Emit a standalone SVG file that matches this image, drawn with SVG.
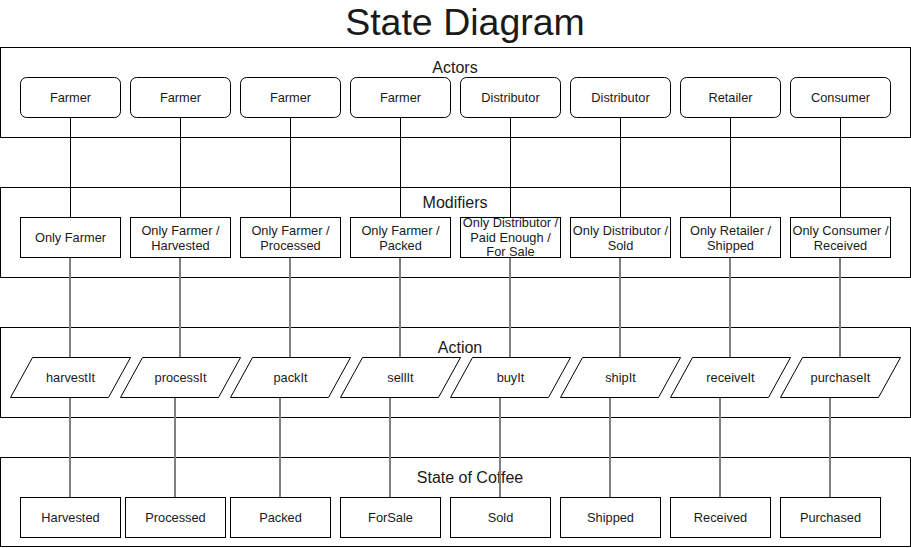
<svg xmlns="http://www.w3.org/2000/svg" width="911" height="548" viewBox="0 0 911 548">
<style>
text{font-family:"Liberation Sans",Arial,sans-serif;fill:#1a1a1a;text-anchor:middle}
.t{font-size:12.8px}
.lane{fill:#fff;stroke:#000;stroke-width:1}
.lt{font-size:16px}
.node{fill:#fff;stroke:#000;stroke-width:1}
.blk{stroke:#000;stroke-width:1;fill:none}
.gry{stroke:#808080;stroke-width:2;fill:none}
</style>
<rect width="911" height="548" fill="#fff"/>
<text x="465" y="35" style="font-size:37.5px">State Diagram</text>

<g id="lane-actors"><rect class="lane" x="0.5" y="47.5" width="910" height="90"/><text class="lt" x="455" y="73">Actors</text></g>
<g id="lane-modifiers"><rect class="lane" x="0.5" y="187.5" width="910" height="90"/><text class="lt" x="455" y="208">Modifiers</text></g>
<g id="lane-action"><rect class="lane" x="0.5" y="327.5" width="910" height="90"/><text class="lt" x="460" y="353">Action</text></g>
<g id="lane-state"><rect class="lane" x="0.5" y="457.5" width="910" height="89"/><text class="lt" x="470" y="483">State of Coffee</text></g>

<g id="connectors">
<path class="blk" d="M70.5 117V217M180.5 117V217M290.5 117V217M400.5 117V217M510.5 117V217M620.5 117V217M730.5 117V217M840.5 117V217"/>
<path class="gry" d="M70 257V357M180 257V357M290 257V357M400 257V357M510 257V357M620 257V357M730 257V357M840 257V357"/>
<path class="gry" d="M70 397V497M175 397V497M280 397V497M390 397V497M500 397V497M610 397V497M720 397V497M830 397V497"/>
</g>

<g id="actor-1"><rect class="node" x="20.5" y="77.5" width="100" height="40" rx="6"/><text class="t" x="70.5" y="101.5">Farmer</text></g>
<g id="actor-2"><rect class="node" x="130.5" y="77.5" width="100" height="40" rx="6"/><text class="t" x="180.5" y="101.5">Farmer</text></g>
<g id="actor-3"><rect class="node" x="240.5" y="77.5" width="100" height="40" rx="6"/><text class="t" x="290.5" y="101.5">Farmer</text></g>
<g id="actor-4"><rect class="node" x="350.5" y="77.5" width="100" height="40" rx="6"/><text class="t" x="400.5" y="101.5">Farmer</text></g>
<g id="actor-5"><rect class="node" x="460.5" y="77.5" width="100" height="40" rx="6"/><text class="t" x="510.5" y="101.5">Distributor</text></g>
<g id="actor-6"><rect class="node" x="570.5" y="77.5" width="100" height="40" rx="6"/><text class="t" x="620.5" y="101.5">Distributor</text></g>
<g id="actor-7"><rect class="node" x="680.5" y="77.5" width="100" height="40" rx="6"/><text class="t" x="730.5" y="101.5">Retailer</text></g>
<g id="actor-8"><rect class="node" x="790.5" y="77.5" width="100" height="40" rx="6"/><text class="t" x="840.5" y="101.5">Consumer</text></g>

<g id="mod-1"><rect class="node" x="20.5" y="217.5" width="100" height="40"/><text class="t" x="70.5" y="242">Only Farmer</text></g>
<g id="mod-2"><rect class="node" x="130.5" y="217.5" width="100" height="40"/><text class="t" x="180.5" y="234.5">Only Farmer /</text><text class="t" x="180.5" y="249.5">Harvested</text></g>
<g id="mod-3"><rect class="node" x="240.5" y="217.5" width="100" height="40"/><text class="t" x="290.5" y="234.5">Only Farmer /</text><text class="t" x="290.5" y="249.5">Processed</text></g>
<g id="mod-4"><rect class="node" x="350.5" y="217.5" width="100" height="40"/><text class="t" x="400.5" y="234.5">Only Farmer /</text><text class="t" x="400.5" y="249.5">Packed</text></g>
<g id="mod-5"><rect class="node" x="460.5" y="217.5" width="100" height="40"/><text class="t" x="510.5" y="227">Only Distributor /</text><text class="t" x="510.5" y="241.5">Paid Enough /</text><text class="t" x="510.5" y="256">For Sale</text></g>
<g id="mod-6"><rect class="node" x="570.5" y="217.5" width="100" height="40"/><text class="t" x="620.5" y="234.5">Only Distributor /</text><text class="t" x="620.5" y="249.5">Sold</text></g>
<g id="mod-7"><rect class="node" x="680.5" y="217.5" width="100" height="40"/><text class="t" x="730.5" y="234.5">Only Retailer /</text><text class="t" x="730.5" y="249.5">Shipped</text></g>
<g id="mod-8"><rect class="node" x="790.5" y="217.5" width="100" height="40"/><text class="t" x="840.5" y="234.5">Only Consumer /</text><text class="t" x="840.5" y="249.5">Received</text></g>

<g id="act-1"><polygon class="node" points="10.5,397.5 32.5,357.5 130.5,357.5 108.5,397.5"/><text class="t" x="70.5" y="382">harvestIt</text></g>
<g id="act-2"><polygon class="node" points="120.5,397.5 142.5,357.5 240.5,357.5 218.5,397.5"/><text class="t" x="180.5" y="382">processIt</text></g>
<g id="act-3"><polygon class="node" points="230.5,397.5 252.5,357.5 350.5,357.5 328.5,397.5"/><text class="t" x="290.5" y="382">packIt</text></g>
<g id="act-4"><polygon class="node" points="340.5,397.5 362.5,357.5 460.5,357.5 438.5,397.5"/><text class="t" x="400.5" y="382">sellIt</text></g>
<g id="act-5"><polygon class="node" points="450.5,397.5 472.5,357.5 570.5,357.5 548.5,397.5"/><text class="t" x="510.5" y="382">buyIt</text></g>
<g id="act-6"><polygon class="node" points="560.5,397.5 582.5,357.5 680.5,357.5 658.5,397.5"/><text class="t" x="620.5" y="382">shipIt</text></g>
<g id="act-7"><polygon class="node" points="670.5,397.5 692.5,357.5 790.5,357.5 768.5,397.5"/><text class="t" x="730.5" y="382">receiveIt</text></g>
<g id="act-8"><polygon class="node" points="780.5,397.5 802.5,357.5 900.5,357.5 878.5,397.5"/><text class="t" x="840.5" y="382">purchaseIt</text></g>

<g id="state-1"><rect class="node" x="20.5" y="497.5" width="100" height="40"/><text class="t" x="70.5" y="522">Harvested</text></g>
<g id="state-2"><rect class="node" x="125.5" y="497.5" width="100" height="40"/><text class="t" x="175.5" y="522">Processed</text></g>
<g id="state-3"><rect class="node" x="230.5" y="497.5" width="100" height="40"/><text class="t" x="280.5" y="522">Packed</text></g>
<g id="state-4"><rect class="node" x="340.5" y="497.5" width="100" height="40"/><text class="t" x="390.5" y="522">ForSale</text></g>
<g id="state-5"><rect class="node" x="450.5" y="497.5" width="100" height="40"/><text class="t" x="500.5" y="522">Sold</text></g>
<g id="state-6"><rect class="node" x="560.5" y="497.5" width="100" height="40"/><text class="t" x="610.5" y="522">Shipped</text></g>
<g id="state-7"><rect class="node" x="670.5" y="497.5" width="100" height="40"/><text class="t" x="720.5" y="522">Received</text></g>
<g id="state-8"><rect class="node" x="780.5" y="497.5" width="100" height="40"/><text class="t" x="830.5" y="522">Purchased</text></g>
</svg>
